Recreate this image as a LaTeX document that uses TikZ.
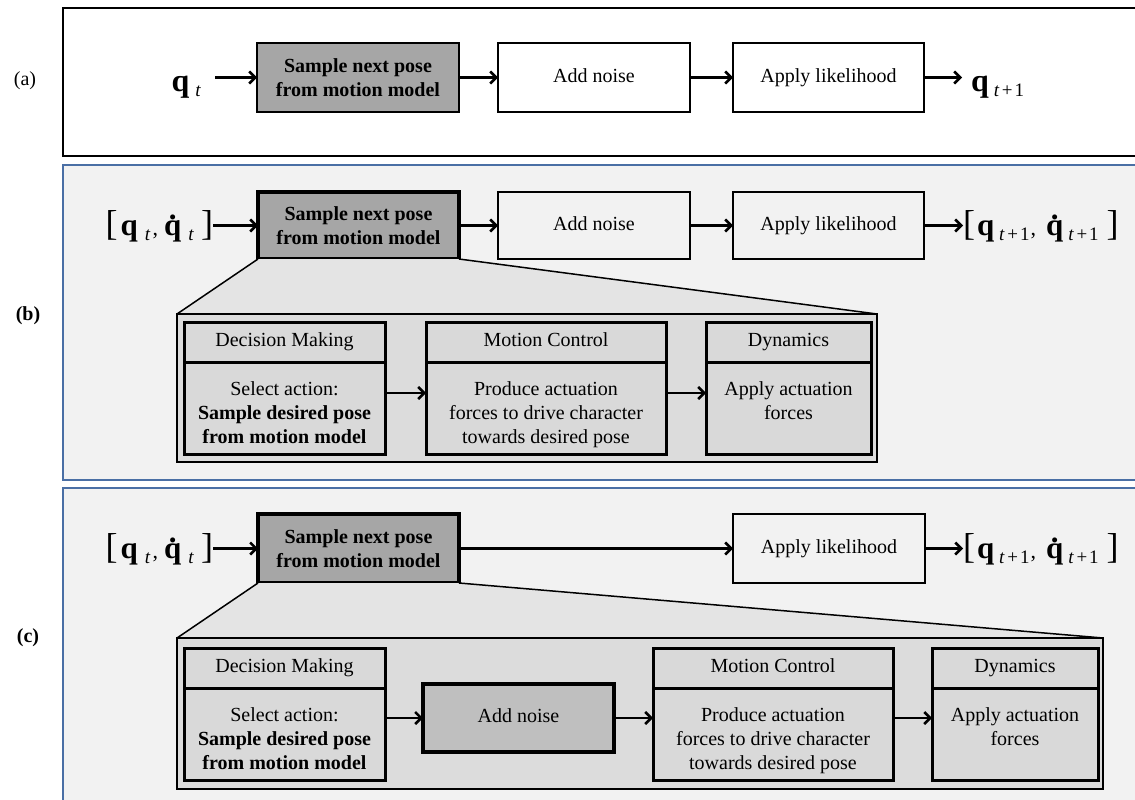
\documentclass[tikz,border=0pt]{standalone}
\usepackage{fontspec}
\setmainfont{Liberation Serif}
\usetikzlibrary{arrows.meta}
\definecolor{sampfill}{HTML}{A6A6A6}
\definecolor{noisefill}{HTML}{BFBFBF}
\definecolor{panelbg}{HTML}{F2F2F2}
\definecolor{trapfill}{HTML}{E4E4E4}
\definecolor{encfill}{HTML}{DCDCDC}
\definecolor{innerfill}{HTML}{D9D9D9}
\definecolor{panelblue}{HTML}{4A6FA5}
\newcommand{\Qb}{\textbf{q}}
\newcommand{\Qdot}{\textbf{q}\kern-0.40em\raisebox{0.50em}{\textbf{.}}\kern0.15em}
\newcommand{\sbs}[1]{\raisebox{-5pt}{\fontsize{19}{19}\selectfont #1}}
\newcommand{\tpo}{\textit{t}\kern2.5pt+\kern2pt1}
\newcommand{\Lbr}{{\fontsize{36}{36}\selectfont[}}
\newcommand{\Rbr}{{\fontsize{36}{36}\selectfont]}}
\newcommand{\cma}{{\fontsize{22}{22}\selectfont,}}
\newcommand{\stateT}{\Lbr\kern3pt\Qb\kern7pt\sbs{\textit{t}}\kern2pt\cma\kern6pt\Qdot\kern7pt\sbs{\textit{t}}\kern7pt\Rbr}
\newcommand{\stateTT}{\Lbr\kern2pt\Qb\kern5pt\sbs{\tpo}\kern1pt\cma\kern10pt\Qdot\kern5pt\sbs{\tpo}\kern8pt\Rbr}
\begin{document}
\begin{tikzpicture}[x=1pt,y=-1pt,
  every node/.style={font=\fontsize{20}{24}\selectfont, inner sep=0pt, outer sep=0pt},
  oneline/.style={text height=14pt, text depth=5pt},
  box/.style={draw=black, line width=2.5pt, rectangle, align=center, fill=white},
  lbox/.style={box, fill=panelbg},
  sampbox/.style={box, fill=sampfill, font=\fontsize{20}{24}\selectfont\bfseries},
  thicksamp/.style={sampbox, line width=3.5pt},
  hdr/.style={draw=black, line width=3pt, rectangle, fill=innerfill, minimum height=40pt, oneline},
  bdy/.style={draw=black, line width=3pt, rectangle, fill=innerfill, minimum height=92pt},
  btxt/.style={align=center, anchor=north},
  enc/.style={draw=black, line width=1.5pt, rectangle, fill=encfill},
  math/.style={font=\fontsize{31}{33}\selectfont},
  arr/.style={line width=2.5pt, -{Straight Barb[length=6pt,width=12pt]}},
  zoomln/.style={line width=1.5pt},
  plabel/.style={font=\fontsize{20}{24}\selectfont}
]
\useasboundingbox (0,0) rectangle (1135,800);
\clip (0,0) rectangle (1135,800);
\fill[white] (0,0) rectangle (1135,800);

% ---------------- panel (a)
\draw[line width=2.5pt, fill=white] (63,8) rectangle (1150,156);
\node[plabel] (la) at (25,81) {(a)};
\node[math, font=\fontsize{32}{34}\selectfont, anchor=base east] (qa) at (201,91.7) {\Qb\kern6pt\sbs{\textit{t}}};
\node[sampbox, minimum width=202pt, minimum height=69pt] (sa) at (358,77.5) {Sample next pose\\from motion model};
\node[box, oneline, minimum width=192pt, minimum height=69pt] (ana) at (594,77.5) {Add noise};
\node[box, oneline, minimum width=191pt, minimum height=69pt] (ala) at (828.5,77.5) {Apply likelihood};
\node[math, font=\fontsize{32}{34}\selectfont, anchor=base west] (qa1) at (971,91.7) {\Qb\kern5pt\sbs{\tpo}};
\draw[arr, shorten <=14pt] (qa.east |- sa.west) -- (sa.west);
\draw[arr] (sa.east) -- (ana.west);
\draw[arr] (ana.east) -- (ala.west);
\draw[arr, shorten >=9pt] (ala.east) -- (qa1.west |- ala.east);

% ---------------- panel (b)
\draw[line width=2.5pt, draw=panelblue, fill=panelbg] (63,165) rectangle (1150,480);
\node[plabel, font=\fontsize{20}{24}\selectfont\bfseries] (lb) at (28,316) {(b)};
\node[math, anchor=base east] (inb) at (213,235) {\stateT};
\node[thicksamp, minimum width=201pt, minimum height=67pt] (sb) at (358.5,225.5) {Sample next pose\\from motion model};
\node[lbox, oneline, minimum width=192pt, minimum height=67pt] (anb) at (594,225.5) {Add noise};
\node[lbox, oneline, minimum width=191pt, minimum height=67pt] (alb) at (828.5,225.5) {Apply likelihood};
\node[math, anchor=base west] (outb) at (963,235) {\stateTT};
\draw[arr] (inb.east |- sb.west) -- (sb.west);
\draw[arr] (sb.east) -- (anb.west);
\draw[arr] (anb.east) -- (alb.west);
\draw[arr] (alb.east) -- (outb.west |- alb.east);

\coordinate (encbnw) at (177,314);
\coordinate (encbne) at (877,314);
\fill[trapfill] (sb.south west) -- (sb.south east) -- (encbne) -- (encbnw) -- cycle;
\draw[zoomln] (sb.south west) -- (encbnw);
\draw[zoomln] (sb.south east) -- (encbne);
\node[enc, minimum width=700pt, minimum height=148pt] (encb) at (527,388) {};

\node[hdr, minimum width=201pt] (dmbh) at (284.5,342) {Decision Making};
\node[bdy, minimum width=201pt] (dmbb) at (284.5,408) {};
\node[btxt] (dmbt) at (284.5,381.5) {Select action:\\\textbf{Sample desired pose}\\\textbf{from motion model}};
\node[hdr, minimum width=240pt] (mcbh) at (546,342) {Motion Control};
\node[bdy, minimum width=240pt] (mcbb) at (546,408) {};
\node[btxt] (mcbt) at (546,381.5) {Produce actuation\\forces to drive character\\towards desired pose};
\node[hdr, minimum width=165pt] (dybh) at (788.5,342) {Dynamics};
\node[bdy, minimum width=165pt] (dybb) at (788.5,408) {};
\node[btxt] (dybt) at (788.5,381.5) {Apply actuation\\forces};
\draw[arr] ([yshift=15pt]dmbb.east) -- ([yshift=15pt]mcbb.west);
\draw[arr] ([yshift=15pt]mcbb.east) -- ([yshift=15pt]dybb.west);

% ---------------- panel (c)
\draw[line width=2.5pt, draw=panelblue, fill=panelbg] (63,488) rectangle (1150,830);
\node[plabel, font=\fontsize{20}{24}\selectfont\bfseries] (lc) at (28,638) {(c)};
\node[math, anchor=base east] (inc) at (213,558) {\stateT};
\node[thicksamp, minimum width=201pt, minimum height=69pt] (sc) at (358.5,548.5) {Sample next pose\\from motion model};
\node[lbox, oneline, minimum width=192pt, minimum height=69pt] (alc) at (829,548.5) {Apply likelihood};
\node[math, anchor=base west] (outc) at (963,558) {\stateTT};
\draw[arr] (inc.east |- sc.west) -- (sc.west);
\draw[arr] (sc.east) -- (alc.west);
\draw[arr] (alc.east) -- (outc.west |- alc.east);

\coordinate (enccnw) at (177,638);
\coordinate (enccne) at (1103,638);
\fill[trapfill] (sc.south west) -- (sc.south east) -- (enccne) -- (enccnw) -- cycle;
\draw[zoomln] (sc.south west) -- (enccnw);
\draw[zoomln] (sc.south east) -- (enccne);
\node[enc, minimum width=926pt, minimum height=151pt] (encc) at (640,713.5) {};

\node[hdr, minimum width=201pt] (dmch) at (284.5,668) {Decision Making};
\node[bdy, minimum width=201pt] (dmcb) at (284.5,734) {};
\node[btxt] (dmct) at (284.5,707.5) {Select action:\\\textbf{Sample desired pose}\\\textbf{from motion model}};
\node[draw=black, line width=4pt, fill=noisefill, oneline, minimum width=191pt, minimum height=68pt] (anc) at (518.5,718) {Add noise};
\node[hdr, minimum width=240pt] (mcch) at (773,668) {Motion Control};
\node[bdy, minimum width=240pt] (mccb) at (773,734) {};
\node[btxt] (mcct) at (773,707.5) {Produce actuation\\forces to drive character\\towards desired pose};
\node[hdr, minimum width=166pt] (dych) at (1015,668) {Dynamics};
\node[bdy, minimum width=166pt] (dycb) at (1015,734) {};
\node[btxt] (dyct) at (1015,707.5) {Apply actuation\\forces};
\draw[arr] ([yshift=16pt]dmcb.east) -- (anc.west);
\draw[arr] (anc.east) -- ([yshift=16pt]mccb.west);
\draw[arr] ([yshift=16pt]mccb.east) -- ([yshift=16pt]dycb.west);
\end{tikzpicture}
\end{document}
